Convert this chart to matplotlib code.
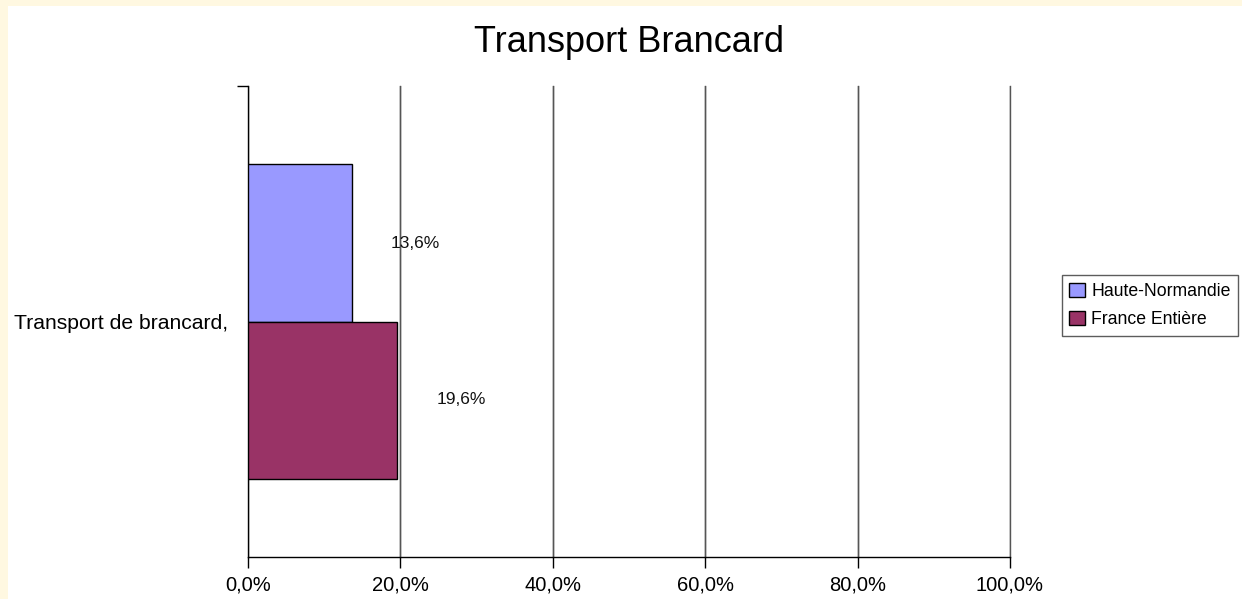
import matplotlib
matplotlib.use("Agg")
import matplotlib.pyplot as plt
from matplotlib.patches import Rectangle
from matplotlib.ticker import FuncFormatter

plt.rcParams['font.family'] = ['Liberation Sans', 'DejaVu Sans']

title = "Transport Brancard"
category = "Transport de brancard,"
series_names = ["Haute-Normandie", "France Entière"]
series_values = [13.6, 19.6]
series_colors = ["#9999FF", "#993366"]
xticks = [0, 20, 40, 60, 80, 100]

W, H = 1242, 599
fig = plt.figure(figsize=(W / 100, H / 100), dpi=100)
fig.patch.set_facecolor("#FFF8E1")
fig.add_artist(Rectangle((8 / W, 0), 1, 1 - 6 / H, transform=fig.transFigure,
                         facecolor="white", edgecolor="none", zorder=-10))

ax = fig.add_axes([248 / W, 1 - 557 / H, (1010 - 248) / W, (557 - 86) / H])
ax.set_facecolor("none")

bar_h = 1 / 3
offsets = [1 / 6, -1 / 6]
bars = []
for name, val, col, off in zip(series_names, series_values, series_colors, offsets):
    b = ax.barh(off, val, height=bar_h, color=col, edgecolor="black", linewidth=1,
                label=name, zorder=3)
    bars.append(b)
    ax.annotate(f"{val:.1f}".replace(".", ",") + "%", xy=(val, off), xytext=(28, 0),
                textcoords="offset points", ha="left", va="center", fontsize=12.5,
                color="#111111")

ax.set_xlim(0, 100)
ax.set_ylim(-0.5, 0.5)
ax.set_xticks(xticks)
ax.xaxis.set_major_formatter(FuncFormatter(lambda v, p: f"{v:.1f}".replace(".", ",") + "%"))
ax.tick_params(axis="x", direction="out", length=8, width=1, labelsize=14.5, pad=5, color="black")
ax.set_yticks([0])
ax.set_yticklabels([category], fontsize=15.2)
ax.tick_params(axis="y", length=0, pad=14)
ax.set_yticks([0.5], minor=True)
ax.tick_params(axis="y", which="minor", length=8, width=1, direction="out", color="black")

ax.grid(axis="x", color="#555555", linewidth=1, zorder=0)
for xv in xticks[1:]:
    ax.axvline(xv, color="#555555", linewidth=1, zorder=0, clip_on=False)
ax.spines["top"].set_visible(False)
ax.spines["right"].set_visible(False)
for s in ("left", "bottom"):
    ax.spines[s].set_linewidth(1)
    ax.spines[s].set_color("black")

fig.text((248 + 1010) / 2 / W, 1 - 42 / H, title, ha="center", va="center", fontsize=26)

leg = fig.legend(handles=bars, labels=series_names, loc="center right",
                 bbox_to_anchor=(1238 / W, 1 - 305.5 / H), fontsize=12.7, frameon=True,
                 fancybox=False, edgecolor="#333333", handlelength=0.9, handleheight=0.9,
                 handletextpad=0.35, borderpad=0.42, labelspacing=0.6, borderaxespad=0)
leg.get_frame().set_linewidth(1)

fig.savefig("out.png", dpi=100)
